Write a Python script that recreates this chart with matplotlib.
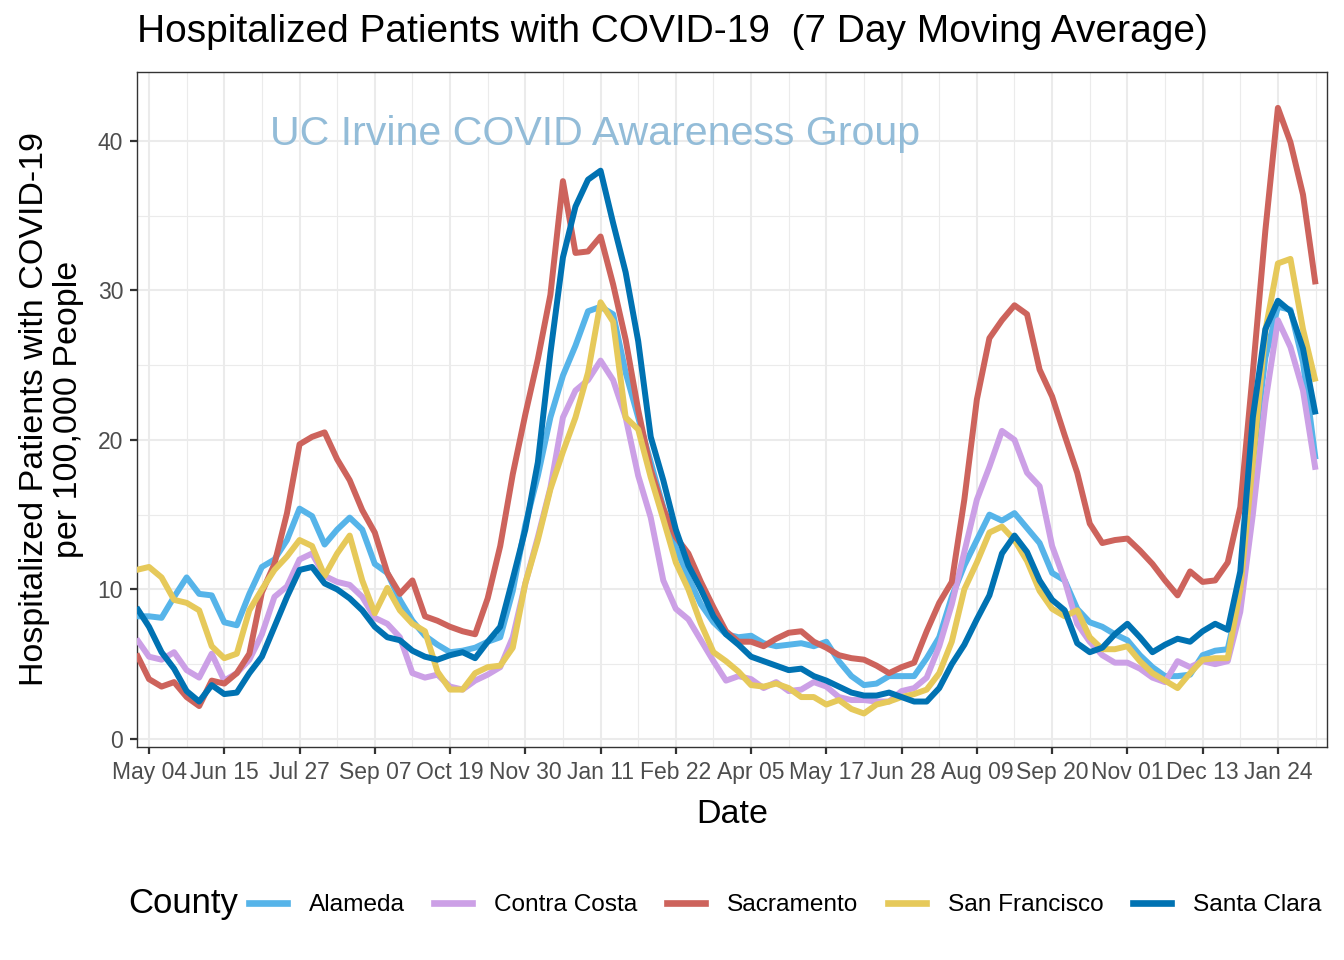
import matplotlib
matplotlib.use("Agg")
import matplotlib.pyplot as plt
import matplotlib.dates as mdates
from matplotlib.lines import Line2D
import numpy as np
import pandas as pd

plt.rcParams['font.family'] = ['Liberation Sans', 'DejaVu Sans']

# ---------------- data (weekly readings of the 7-day average) ----------------
start_date = "2020-04-27"
n_weeks = 95

counties = ["Alameda", "Contra Costa", "Sacramento", "San Francisco", "Santa Clara"]
colors = ["#56B4E9", "#CCA0E6", "#CD635C", "#E6C95A", "#0072B2"]

alameda = [8.2, 8.2, 8.1, 9.5, 10.8, 9.7, 9.6, 7.8, 7.6, 9.7,
           11.5, 12.0, 13.3, 15.4, 14.9, 13.0, 14.0, 14.8, 14.0, 11.7,
           11.1, 9.3, 7.9, 6.9, 6.3, 5.8, 5.9, 6.1, 6.5, 6.8,
           9.9, 14.3, 17.6, 21.5, 24.3, 26.3, 28.6, 28.9, 28.4, 24.5,
           21.5, 18.5, 15.5, 12.8, 10.8, 9.0, 7.8, 7.0, 6.8, 6.9,
           6.4, 6.2, 6.3, 6.4, 6.2, 6.5, 5.2, 4.2, 3.6, 3.7,
           4.2, 4.2, 4.2, 5.4, 6.8, 9.5, 11.6, 13.3, 15.0, 14.6,
           15.1, 14.1, 13.1, 11.1, 10.6, 8.7, 7.8, 7.5, 7.0, 6.6,
           5.6, 4.8, 4.2, 4.2, 4.3, 5.6, 5.9, 6.0, 9.8, 18.5,
           25.5, 28.9, 28.7, 25.2, 18.7]

contra_costa = [6.7, 5.5, 5.3, 5.8, 4.6, 4.1, 5.7, 3.9, 4.4, 5.3,
                7.0, 9.5, 10.2, 12.0, 12.4, 10.9, 10.5, 10.3, 9.5, 8.1,
                7.7, 6.8, 4.4, 4.1, 4.3, 3.5, 3.3, 3.9, 4.3, 4.8,
                6.8, 10.4, 13.5, 16.8, 21.5, 23.3, 24.0, 25.3, 24.0, 21.5,
                17.6, 14.8, 10.6, 8.7, 8.0, 6.6, 5.2, 3.9, 4.2, 4.0,
                3.4, 3.8, 3.2, 3.3, 3.8, 3.5, 2.8, 2.6, 2.6, 2.5,
                2.5, 3.2, 3.4, 4.1, 6.2, 9.0, 12.5, 16.0, 18.2, 20.6,
                20.0, 17.8, 16.9, 12.9, 10.6, 7.7, 6.5, 5.6, 5.1, 5.1,
                4.7, 4.1, 3.8, 5.2, 4.8, 5.2, 5.0, 5.2, 8.5, 15.0,
                22.5, 28.0, 26.2, 23.3, 18.0]

sacramento = [5.7, 4.0, 3.5, 3.8, 2.8, 2.2, 3.9, 3.7, 4.4, 5.7,
              9.8, 11.7, 15.1, 19.7, 20.2, 20.5, 18.7, 17.3, 15.3, 13.8,
              11.1, 9.7, 10.6, 8.2, 7.9, 7.5, 7.2, 7.0, 9.4, 12.9,
              17.7, 21.7, 25.4, 29.7, 37.3, 32.5, 32.6, 33.6, 30.4, 26.7,
              22.0, 18.0, 15.4, 13.5, 12.4, 10.5, 8.8, 7.2, 6.5, 6.5,
              6.2, 6.7, 7.1, 7.2, 6.5, 6.1, 5.6, 5.4, 5.3, 4.9,
              4.4, 4.8, 5.1, 7.2, 9.1, 10.5, 16.0, 22.7, 26.8, 28.0,
              29.0, 28.4, 24.7, 22.9, 20.3, 17.8, 14.4, 13.1, 13.3, 13.4,
              12.6, 11.7, 10.6, 9.6, 11.2, 10.5, 10.6, 11.8, 15.5, 24.5,
              34.0, 42.2, 39.9, 36.4, 30.4]

san_francisco = [11.3, 11.5, 10.8, 9.3, 9.1, 8.6, 6.2, 5.4, 5.7, 8.6,
                 10.0, 11.3, 12.2, 13.3, 12.9, 10.9, 12.4, 13.6, 10.6, 8.4,
                 10.1, 8.6, 7.7, 7.2, 4.5, 3.3, 3.3, 4.4, 4.8, 4.9,
                 6.1, 10.4, 13.3, 16.7, 19.2, 21.5, 24.5, 29.2, 27.9, 21.5,
                 20.7, 17.5, 14.7, 11.8, 10.0, 7.7, 5.8, 5.2, 4.5, 3.6,
                 3.5, 3.7, 3.4, 2.8, 2.8, 2.3, 2.6, 2.0, 1.7, 2.3,
                 2.5, 2.8, 3.0, 3.3, 4.4, 6.5, 10.0, 11.8, 13.8, 14.2,
                 13.3, 11.9, 9.9, 8.7, 8.2, 8.6, 6.8, 6.0, 6.0, 6.2,
                 5.2, 4.4, 3.9, 3.4, 4.4, 5.3, 5.4, 5.4, 10.0, 18.5,
                 27.3, 31.8, 32.1, 27.4, 23.9]

santa_clara = [8.8, 7.5, 5.8, 4.7, 3.2, 2.5, 3.6, 3.0, 3.1, 4.4,
               5.5, 7.5, 9.5, 11.3, 11.5, 10.4, 10.0, 9.4, 8.6, 7.5,
               6.8, 6.6, 5.9, 5.5, 5.3, 5.6, 5.8, 5.4, 6.5, 7.5,
               10.7, 14.0, 18.5, 25.8, 32.2, 35.6, 37.4, 38.0, 34.5, 31.2,
               26.6, 20.2, 17.3, 14.0, 11.6, 10.0, 8.2, 7.0, 6.3, 5.5,
               5.2, 4.9, 4.6, 4.7, 4.2, 3.9, 3.5, 3.1, 2.9, 2.9,
               3.1, 2.8, 2.5, 2.5, 3.4, 5.0, 6.3, 8.0, 9.6, 12.4,
               13.6, 12.5, 10.6, 9.3, 8.6, 6.4, 5.8, 6.1, 7.0, 7.7,
               6.8, 5.8, 6.3, 6.7, 6.5, 7.2, 7.7, 7.3, 11.2, 21.5,
               27.4, 29.3, 28.6, 26.1, 21.7]

series = [alameda, contra_costa, sacramento, san_francisco, santa_clara]

x_break_start = "2020-05-04"
x_break_step_days = 42
n_breaks = 16
y_breaks = [0, 10, 20, 30, 40]
y_minor = [5, 15, 25, 35]

title = "Hospitalized Patients with COVID-19  (7 Day Moving Average)"
watermark = "UC Irvine COVID Awareness Group"
ylabel = "Hospitalized Patients with COVID-19\nper 100,000 People"
xlabel = "Date"
legend_title = "County"

# ---------------- figure ----------------
W, H = 1344, 960
fig = plt.figure(figsize=(W / 100, H / 100), dpi=100)
px_l, px_r, px_t, px_b = 137, 1327, 72, 747
ax = fig.add_axes([px_l / W, 1 - px_b / H, (px_r - px_l) / W, (px_b - px_t) / H])

dates = pd.date_range(start_date, periods=n_weeks, freq="7D")
for name, col, vals in zip(counties, colors, series):
    ax.plot(dates, vals, color=col, lw=4.3, solid_capstyle="butt",
            solid_joinstyle="round", zorder=3)

b0 = pd.Timestamp(x_break_start)
breaks = [b0 + pd.Timedelta(days=x_break_step_days * i) for i in range(n_breaks)]
minor = [b0 + pd.Timedelta(days=x_break_step_days * i - x_break_step_days // 2)
         for i in range(n_breaks + 1)]

ax.set_xticks(breaks)
ax.xaxis.set_major_formatter(mdates.DateFormatter("%b %d"))
ax.set_xticks(minor, minor=True)
ax.set_yticks(y_breaks)
ax.set_yticks(y_minor, minor=True)

ax.set_xlim(b0 - pd.Timedelta(days=6.7), b0 + pd.Timedelta(days=657.4))
ax.set_ylim(-0.54, 44.6)

ax.grid(which="major", color="#EBEBEB", lw=1.5, zorder=0)
ax.grid(which="minor", color="#EBEBEB", lw=0.8, zorder=0)
ax.set_axisbelow(True)
ax.tick_params(which="minor", length=0)
ax.tick_params(which="major", length=5, width=1.6, color="#333333",
               labelsize=16.5, labelcolor="#4D4D4D", pad=5)
for s in ax.spines.values():
    s.set_color("#333333")
    s.set_linewidth(1.0)

ax.set_xlabel(xlabel, fontsize=24.5, labelpad=11)
ax.set_ylabel(ylabel, fontsize=24.5, labelpad=10, linespacing=1.1)

fig.text(px_l / W, 1 - 32 / H, title, fontsize=28, ha="left", va="center")
ax.text(0.112, 0.908, watermark, transform=ax.transAxes, fontsize=29.6,
        color="#8DB9D6", alpha=0.95, ha="left", va="center")

# legend
handles = [Line2D([0], [0], color=c, lw=4.8) for c in colors]
fig.text(128 / W, 1 - 904 / H, legend_title, fontsize=25, ha="left", va="center")
fig.legend(handles, counties, loc="center left", bbox_to_anchor=(239 / W, 1 - 905 / H),
           ncol=5, frameon=False, fontsize=17.6, handlelength=1.56, handletextpad=0.9,
           columnspacing=1.2, borderaxespad=0)

fig.savefig("out.png", dpi=100, facecolor="white")
